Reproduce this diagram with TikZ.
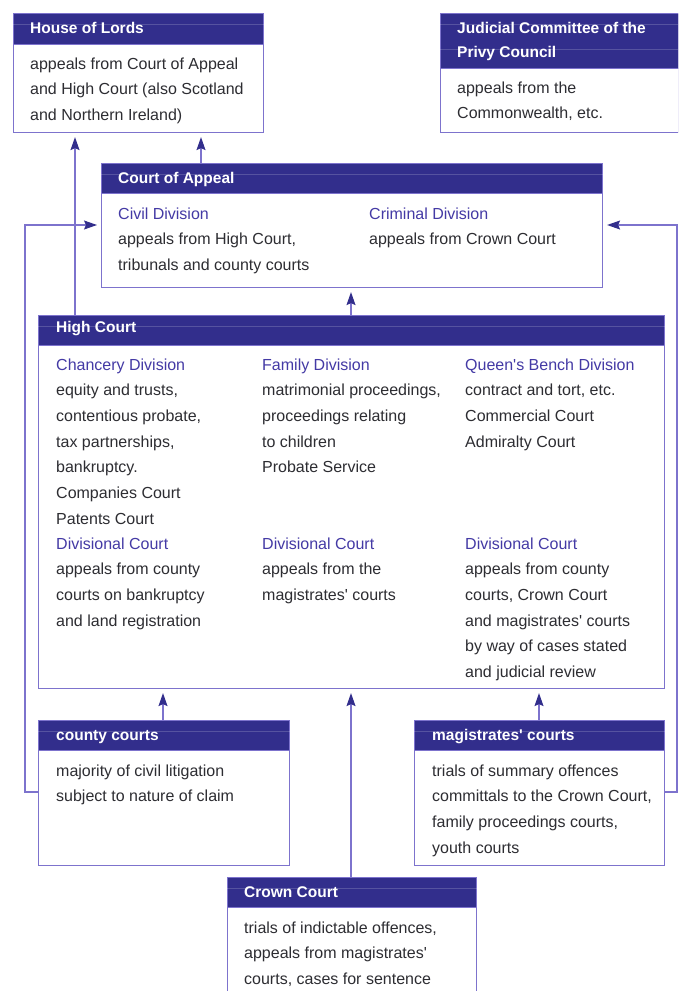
\documentclass[tikz,border=0pt]{standalone}
\usepackage{fontspec}
\setmainfont{Liberation Sans}
\usetikzlibrary{arrows.meta,calc}
\definecolor{hdrblue}{RGB}{50,46,140}
\definecolor{linecol}{RGB}{125,115,205}
\definecolor{divcol}{RGB}{68,58,165}
\definecolor{txtcol}{RGB}{45,45,50}
\newcommand{\dv}[1]{\textcolor{divcol}{#1}}
\newcommand{\pb}[2]{\parbox[t]{#1}{#2}}
\begin{document}
\begin{tikzpicture}[x=1pt,y=-1pt,
 box/.style={draw=linecol,line width=1.1pt,fill=white,inner sep=0pt,anchor=north west},
 hdr/.style={draw=linecol,line width=1.1pt,fill=hdrblue,inner sep=0pt,anchor=north west},
 htxt/.style={anchor=base west,inner sep=0pt,text=white,font=\fontsize{15.5}{24}\selectfont\bfseries},
 btxt/.style={anchor=base west,inner sep=0pt,text=txtcol,font=\fontsize{16}{25.7}\selectfont},
 arr/.style={draw=linecol,line width=1.1pt,-{Stealth[length=13pt,width=9pt,inset=2pt,color=hdrblue]},shorten >=4pt},
 streak/.style={draw=white,opacity=0.18,line width=0.7pt}]
\clip (0,0) rectangle (678,991);
% House of Lords
\node[box,minimum width=250pt,minimum height=119pt] (hol) at (13,13) {};
\node[hdr,minimum width=250pt,minimum height=31pt] (holh) at (13,13) {};
\draw[streak] ($(holh.north west)+(0,11)$) -- ($(holh.north east)+(0,11)$);
\node[htxt] (holt) at (30,33) {House of Lords};
\node[btxt] (holb) at (30,69) {\pb{230pt}{appeals from Court of Appeal\\and High Court (also Scotland\\and Northern Ireland)}};
% JCPC
\node[box,minimum width=238pt,minimum height=119pt] (jc) at (440,13) {};
\node[hdr,minimum width=238pt,minimum height=55pt] (jch) at (440,13) {};
\draw[streak] ($(jch.north west)+(0,11)$) -- ($(jch.north east)+(0,11)$);
\draw[streak] ($(jch.north west)+(0,36)$) -- ($(jch.north east)+(0,36)$);
\node[htxt] (jct) at (457,33) {\pb{215pt}{Judicial Committee of the\\Privy Council}};
\node[btxt] (jcb) at (457,93) {\pb{215pt}{appeals from the\\Commonwealth, etc.}};
% Court of Appeal
\node[box,minimum width=501pt,minimum height=124pt] (coa) at (101,163) {};
\node[hdr,minimum width=501pt,minimum height=30pt] (coah) at (101,163) {};
\draw[streak] ($(coah.north west)+(0,11)$) -- ($(coah.north east)+(0,11)$);
\node[htxt] (coat) at (118,183) {Court of Appeal};
\node[btxt] (coa1) at (118,219) {\pb{240pt}{\dv{Civil Division}\\appeals from High Court,\\tribunals and county courts}};
\node[btxt] (coa2) at (369,219) {\pb{225pt}{\dv{Criminal Division}\\appeals from Crown Court}};
% High Court
\node[box,minimum width=626pt,minimum height=373pt] (hc) at (38,315) {};
\node[hdr,minimum width=626pt,minimum height=30pt] (hch) at (38,315) {};
\draw[streak] ($(hch.north west)+(0,11)$) -- ($(hch.north east)+(0,11)$);
\node[htxt] (hct) at (56,332) {High Court};
\node[btxt] (hc1) at (56,370) {\pb{200pt}{\dv{Chancery Division}\\equity and trusts,\\contentious probate,\\tax partnerships,\\bankruptcy.\\Companies Court\\Patents Court}};
\node[btxt] (hc2) at (262,370) {\pb{200pt}{\dv{Family Division}\\matrimonial proceedings,\\proceedings relating\\to children\\Probate Service}};
\node[btxt] (hc3) at (465,370) {\pb{195pt}{\dv{Queen\textquotesingle s Bench Division}\\contract and tort, etc.\\Commercial Court\\Admiralty Court}};
\node[btxt] (hc4) at (56,549) {\pb{200pt}{\dv{Divisional Court}\\appeals from county\\courts on bankruptcy\\and land registration}};
\node[btxt] (hc5) at (262,549) {\pb{200pt}{\dv{Divisional Court}\\appeals from the\\magistrates\textquotesingle\ courts}};
\node[btxt] (hc6) at (465,549) {\pb{195pt}{\dv{Divisional Court}\\appeals from county\\courts, Crown Court\\and magistrates\textquotesingle\ courts\\by way of cases stated\\and judicial review}};
% county courts
\node[box,minimum width=251pt,minimum height=145pt] (cc) at (38,720) {};
\node[hdr,minimum width=251pt,minimum height=30pt] (cch) at (38,720) {};
\draw[streak] ($(cch.north west)+(0,11)$) -- ($(cch.north east)+(0,11)$);
\node[htxt] (cct) at (56,740) {county courts};
\node[btxt] (ccb) at (56,776) {\pb{225pt}{majority of civil litigation\\subject to nature of claim}};
% magistrates' courts
\node[box,minimum width=250pt,minimum height=145pt] (mag) at (414,720) {};
\node[hdr,minimum width=250pt,minimum height=30pt] (magh) at (414,720) {};
\draw[streak] ($(magh.north west)+(0,11)$) -- ($(magh.north east)+(0,11)$);
\node[htxt] (magt) at (432,740) {magistrates\textquotesingle\ courts};
\node[btxt] (magb) at (432,776) {\pb{230pt}{trials of summary offences\\committals to the Crown Court,\\family proceedings courts,\\youth courts}};
% Crown Court
\node[box,minimum width=249pt,minimum height=130pt] (crown) at (227,877) {};
\node[hdr,minimum width=249pt,minimum height=30pt] (crownh) at (227,877) {};
\draw[streak] ($(crownh.north west)+(0,11)$) -- ($(crownh.north east)+(0,11)$);
\node[htxt] (crownt) at (244,897) {Crown Court};
\node[btxt] (crownb) at (244,933) {\pb{225pt}{trials of indictable offences,\\appeals from magistrates\textquotesingle\\courts, cases for sentence}};
% connectors
\coordinate (xa) at (201,0);
\coordinate (xb) at (75,0);
\coordinate (xc) at (351,0);
\coordinate (xd) at (163,0);
\coordinate (xe) at (539,0);
\coordinate (lft) at (25,225);
\coordinate (rgt) at (677,225);
\coordinate (ly) at (0,792);
\draw[arr] (coah.north -| xa) -- (hol.south -| xa);
\draw[arr] (hch.north -| xb) -- (hol.south -| xb);
\draw[arr] (hch.north -| xc) -- (coa.south -| xc);
\draw[arr] (cch.north -| xd) -- (hc.south -| xd);
\draw[arr] (crownh.north -| xc) -- (hc.south -| xc);
\draw[arr] (magh.north -| xe) -- (hc.south -| xe);
\draw[arr] (cc.west |- ly) -| (lft) -- (coa.west |- lft);
\draw[arr] (mag.east |- ly) -| (rgt) -- (coa.east |- rgt);
\end{tikzpicture}
\end{document}
